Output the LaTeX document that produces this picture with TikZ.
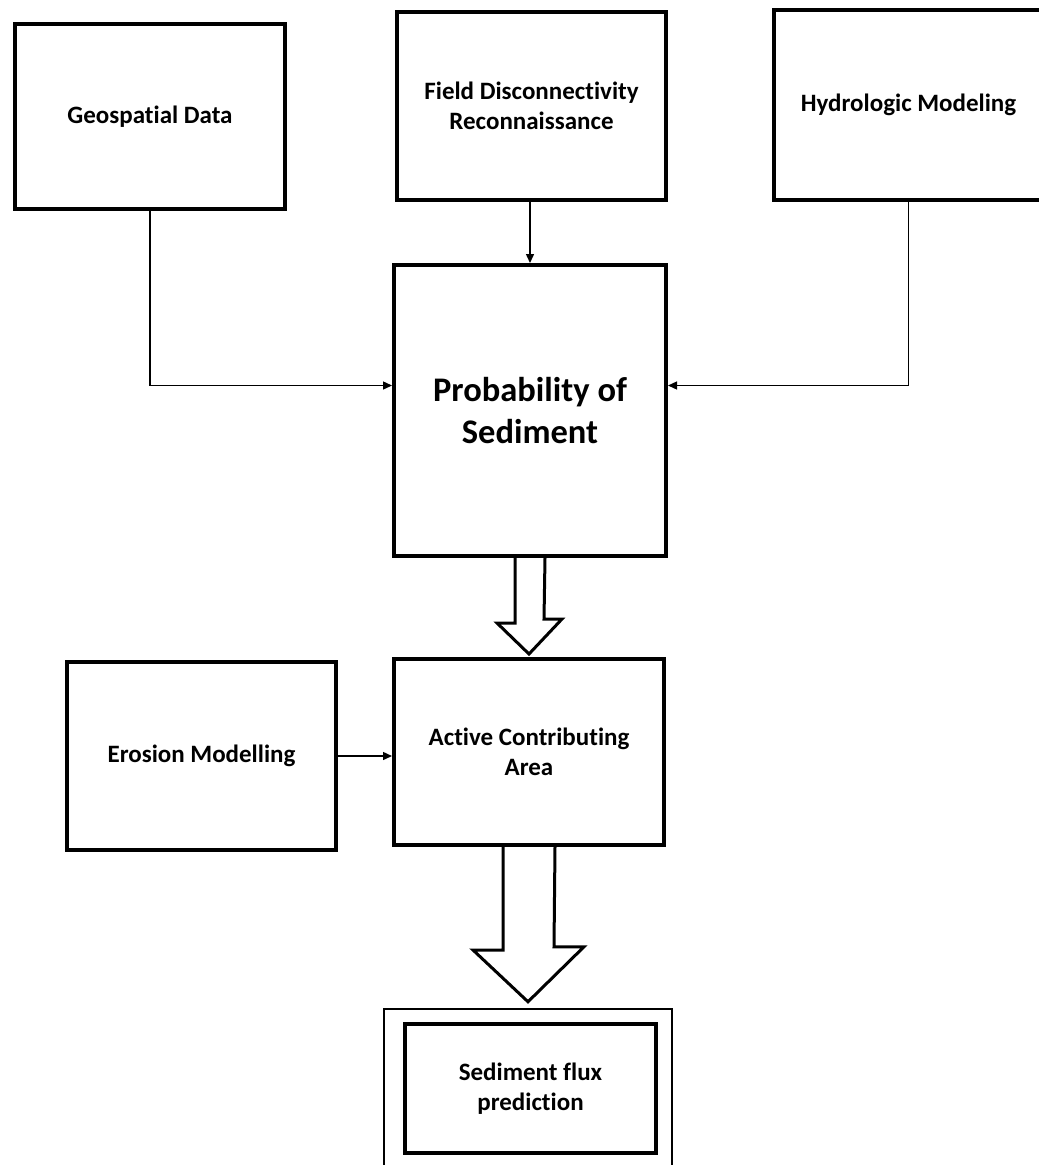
\documentclass[tikz,border=0pt]{standalone}
\usepackage{fontspec}
\setmainfont[Ligatures=NoCommon]{Carlito}
\usepackage{tikz}
\usetikzlibrary{arrows.meta,calc}

\tikzset{
    stage/.style={draw, line width=4pt, align=center, inner sep=0pt,
        font=\bfseries\fontsize{25}{30}\selectfont},
    feed/.style={line width=1.4pt, -{Triangle[length=9pt,width=8pt]}},
    fat/.style={line width=3pt, line join=miter},
}

\begin{document}
\begin{tikzpicture}[x=1pt,y=-1pt]
                \useasboundingbox (0,0) rectangle (1039,1165);
                \clip (0,0) rectangle (1039,1165);
                % input boxes
                \node[stage, minimum width=270pt, minimum height=185pt] (geo) at (150,116.5) {Geospatial Data};
                \node[stage, minimum width=269pt, minimum height=188pt] (field) at (531.5,106) {Field Disconnectivity\\Reconnaissance};
                \node[stage, minimum width=269pt, minimum height=190pt] (hydro) at (908.5,105) {Hydrologic Modeling};
                \node[stage, minimum width=272pt, minimum height=291pt, font=\bfseries\fontsize{34.5}{42}\selectfont] (prob) at (530,410.5) {Probability of\\Sediment};
                \node[stage, minimum width=269pt, minimum height=188pt] (erosion) at (201.5,756) {Erosion Modelling};
                \node[stage, minimum width=270pt, minimum height=186pt] (active) at (529,752) {Active Contributing\\Area};
                \node[draw, line width=2.5pt, minimum width=288pt, minimum height=159pt] (frame) at (528,1088.5) {};
                \node[stage, minimum width=251pt, minimum height=129pt] (flux) at (530.5,1088.5) {Sediment flux\\prediction};
                % thin connectors
                \draw[feed] (geo.south) |- ($(prob.west)+(0,-25)$);
                \draw[feed] (field.south -| prob.north) -- (prob.north);
                \draw[feed] (hydro.south) |- ($(prob.east)+(0,-25)$);
                \draw[feed] (erosion.east) -- (erosion.east -| active.west);
                % hollow arrows
                \draw[fat] ($(prob.south)+(-15,0)$) -- ++(0,65) -- ++(-18,0) -- ($(active.north)+(0,-3)$) -- ++(33,-35) -- ++(-18,0) -- ($(prob.south)+(15,0)$);
                \draw[fat] ($(active.south)+(-26,0)$) -- ++(0,103) -- ++(-30,0) -- ($(frame.north)+(0,-6)$) -- ++(56,-55) -- ++(-30,0) -- ($(active.south)+(26,0)$);
            \end{tikzpicture}
\end{document}
